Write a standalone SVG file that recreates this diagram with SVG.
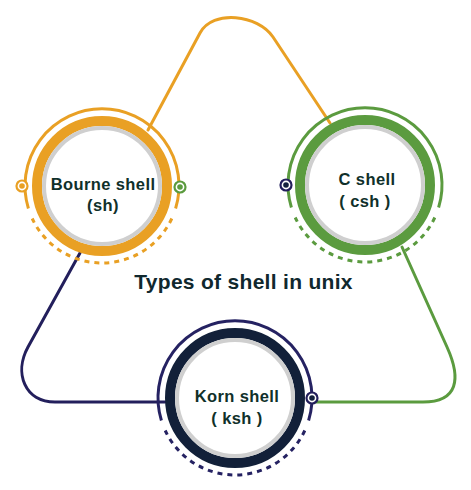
<svg xmlns="http://www.w3.org/2000/svg" width="471" height="490" viewBox="0 0 471 490">
  <style>
    .conn { fill: none; stroke-width: 3; stroke-linecap: round; stroke-linejoin: round; }
    .thick { fill: #ffffff; stroke-width: 10; }
    .shade { fill: none; stroke: #cfcfcf; stroke-width: 4; }
    .solid { fill: none; stroke-width: 3; }
    .dash { fill: none; stroke-width: 3; stroke-dasharray: 5 5; }
    .mk { fill: #ffffff; stroke-width: 2.2; }
    .lbl { font-family: "Liberation Sans", Arial, Helvetica, sans-serif; font-weight: bold; font-size: 16.5px; fill: #10302a; text-anchor: middle; letter-spacing: 0.4px; }
    .title { font-family: "Liberation Sans", Arial, Helvetica, sans-serif; font-weight: bold; font-size: 21px; fill: #10282e; text-anchor: middle; letter-spacing: 0.3px; }
  </style>
  <rect width="471" height="490" fill="#ffffff"/>

  <g id="connectors">
    <path class="conn" stroke="#e9a024" d="M148,130 L200,33 C212.7,9.2 258.1,14.6 273,37 L330,123"/>
    <path class="conn" stroke="#231f5c" d="M80,253 L28,347 C13.6,373.4 25,402 55,402 L165,402"/>
    <path class="conn" stroke="#5b9b3f" d="M402,247 L447,347 C461.4,378.9 458,402 423,402 L313,402"/>
  </g>

  <g id="bourne" transform="translate(102,186)">
    <path class="solid" stroke="#e9a024" d="M-73.6,22.5 A77,77 0 1 1 73.6,22.5"/>
    <path class="dash" stroke="#e9a024" d="M69.8,32.5 A77,77 0 0 1 -69.8,32.5"/>
    <circle class="thick" stroke="#e9a024" r="65"/>
    <circle class="shade" r="58"/>
    <circle class="mk" stroke="#e9a024" cx="-80" cy="0" r="5.5"/>
    <circle fill="#e9a024" cx="-80" cy="0" r="2.8"/>
    <circle class="mk" stroke="#5b9b3f" cx="78" cy="1" r="5.5"/>
    <circle fill="#5b9b3f" cx="78" cy="1" r="2.8"/>
    <text class="lbl" x="1" y="4">Bourne shell</text>
    <text class="lbl" x="1" y="25">(sh)</text>
  </g>

  <g id="cshell" transform="translate(365,185)">
    <path class="solid" stroke="#5b9b3f" d="M-73.6,22.5 A77,77 0 1 1 73.6,22.5"/>
    <path class="dash" stroke="#5b9b3f" d="M69.8,32.5 A77,77 0 0 1 -69.8,32.5"/>
    <circle class="thick" stroke="#5b9b3f" r="65"/>
    <circle class="shade" r="58"/>
    <circle class="mk" stroke="#231f5c" cx="-79" cy="0" r="5.5"/>
    <circle fill="#13203d" cx="-79" cy="0" r="2.8"/>
    <text class="lbl" x="2" y="0">C shell</text>
    <text class="lbl" x="0" y="22">( csh )</text>
  </g>

  <g id="korn" transform="translate(235,398)">
    <path class="solid" stroke="#252262" d="M-73.6,22.5 A77,77 0 1 1 73.6,22.5"/>
    <path class="dash" stroke="#252262" d="M69.8,32.5 A77,77 0 0 1 -69.8,32.5"/>
    <circle class="thick" stroke="#122039" r="65"/>
    <circle class="shade" r="58"/>
    <circle class="mk" stroke="#231f5c" cx="77" cy="0" r="5.5"/>
    <circle fill="#13203d" cx="77" cy="0" r="2.8"/>
    <text class="lbl" x="2" y="4">Korn shell</text>
    <text class="lbl" x="2" y="26">( ksh )</text>
  </g>

  <g id="title">
    <text class="title" x="243.5" y="289">Types of shell in unix</text>
  </g>
</svg>
